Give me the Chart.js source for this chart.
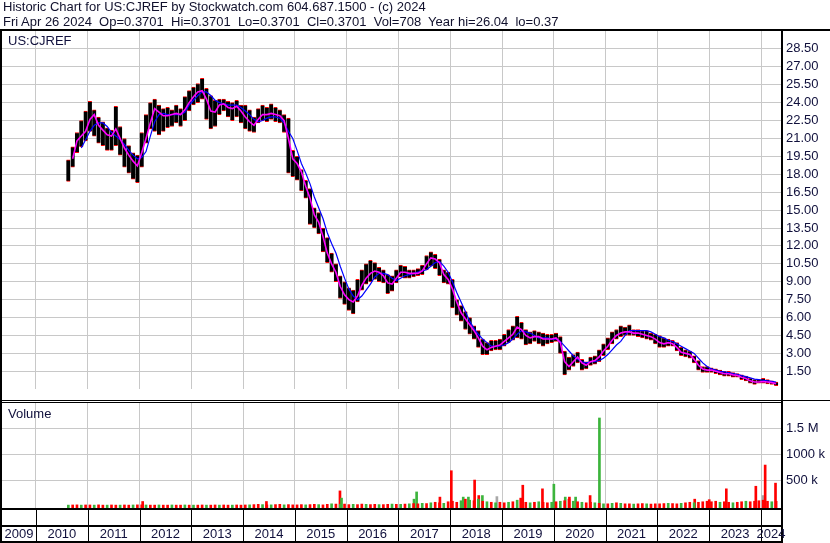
<!DOCTYPE html>
<html>
<head>
<meta charset="utf-8">
<script src="https://cdn.jsdelivr.net/npm/chart.js@4.4.1/dist/chart.umd.min.js"></script>
<style>
body { margin: 0; background: #fff; width: 830px; height: 543px; overflow: hidden; position: relative; font-family: "Liberation Sans", Arial, sans-serif; }
#hdr { position: absolute; left: 3px; top: -1px; font-size: 13px; line-height: 15px; color: #10102c; white-space: pre; }
#c1 { position: absolute; left: 0; top: 0; }
#c2 { position: absolute; left: 0; top: 402px; }
</style>
</head>
<body>
<canvas id="c1" width="830" height="402"></canvas>
<canvas id="c2" width="830" height="141"></canvas>
<div id="hdr">Historic Chart for US:CJREF by Stockwatch.com 604.687.1500 - (c) 2024
Fri Apr 26 2024  Op=0.3701  Hi=0.3701  Lo=0.3701  Cl=0.3701  Vol=708  Year hi=26.04  lo=0.37</div>
<script>
// serie mensili a partire da agosto 2010
const firstYear = 2010, firstMonth = 8;
const years = [2009, 2010, 2011, 2012, 2013, 2014, 2015, 2016, 2017, 2018, 2019, 2020, 2021, 2022, 2023, 2024];
const priceTicks = [1.5, 3, 4.5, 6, 7.5, 9, 10.5, 12, 13.5, 15, 16.5, 18, 19.5, 21, 22.5, 24, 25.5, 27, 28.5];
const volTicks = [500000, 1000000, 1500000];

const hi = [
  19.2, 20.3, 21.5, 22.5, 23.3,
  24.1, 23.4, 22.8, 22.4, 21.9, 21.7, 23.7, 22.0, 21.0, 20.4, 19.8, 19.6,
  21.5, 23.0, 24.0, 24.3, 23.8, 23.5, 23.6, 23.4, 23.8, 23.5, 24.5, 25.0,
  25.3, 25.6, 26.04, 25.2, 24.6, 24.2, 24.3, 24.3, 24.1, 24.0, 24.2, 23.8,
  23.8, 23.4, 22.8, 23.5, 23.8, 23.6, 23.9, 23.6, 23.4, 23.0, 22.7, 20.0,
  19.5, 18.4, 17.5, 16.8, 15.2, 14.8, 13.5, 12.7, 11.4, 10.5, 9.5, 9.0,
  8.5, 8.3, 9.2, 10.0, 10.5, 10.8, 10.6, 10.2, 10.0, 9.6, 9.5, 10.0,
  10.4, 10.3, 10.0, 10.0, 10.1, 10.4, 11.2, 11.5, 11.3, 10.9, 10.0, 9.8,
  9.2, 7.5, 7.0, 6.5, 6.0, 5.3, 4.9, 4.2, 3.9, 4.1, 4.1, 4.2,
  4.6, 5.0, 5.3, 6.1, 5.6, 5.0, 4.8, 4.9, 4.8, 4.7, 4.6, 4.6,
  4.7, 4.4, 3.2, 2.7, 2.9, 3.1, 2.5, 2.3, 2.7, 2.8, 3.3, 3.8,
  4.3, 4.8, 5.0, 5.3, 5.2, 5.4, 5.0, 5.0, 4.9, 4.9, 4.7, 4.6,
  4.5, 4.3, 4.2, 4.1, 3.9, 3.5, 3.3, 3.2, 2.8, 2.4, 1.9, 1.9,
  1.8, 1.7, 1.6, 1.5, 1.5, 1.4, 1.3, 1.2, 1.1, 0.9, 0.8, 0.8,
  0.9, 0.8, 0.7, 0.6
];
const lo = [
  17.4, 18.6, 19.8, 20.3, 20.8,
  21.6, 21.2, 20.6, 20.4, 20.0, 20.0, 20.4, 19.6, 18.6, 18.1, 17.6, 17.3,
  18.6, 20.6, 21.8, 21.6, 21.3, 21.6, 21.9, 22.0, 22.3, 22.0, 22.5, 23.3,
  23.8, 24.0, 24.3, 22.6, 21.8, 22.0, 23.0, 23.3, 22.8, 22.5, 22.8, 22.3,
  21.8, 21.6, 21.5, 22.3, 22.5, 22.4, 22.6, 22.4, 22.3, 21.5, 18.1, 17.8,
  17.5, 16.6, 16.0, 13.8, 13.5, 13.0, 11.5, 10.6, 9.8, 9.0, 7.6, 7.1,
  6.6, 6.3, 7.3, 8.3, 8.8, 9.0, 9.2, 9.0, 8.9, 8.0, 8.2, 8.9,
  9.4, 9.3, 9.3, 9.4, 9.5, 9.6, 10.0, 10.3, 10.1, 9.5, 8.9, 8.8,
  6.8, 6.2, 5.7, 5.0, 4.6, 4.2, 3.5, 2.9, 2.9, 3.2, 3.3, 3.3,
  3.6, 3.9, 4.1, 4.3, 4.2, 3.7, 3.8, 4.0, 3.8, 3.6, 3.8, 3.9,
  4.0, 3.0, 1.2, 1.6, 1.9, 2.2, 1.6, 1.7, 2.0, 2.1, 2.3, 2.8,
  3.3, 3.8, 4.2, 4.4, 4.5, 4.5, 4.5, 4.4, 4.3, 4.2, 4.1, 3.8,
  3.5, 3.5, 3.6, 3.6, 3.2, 2.8, 2.7, 2.6, 2.2, 1.6, 1.4, 1.4,
  1.4, 1.3, 1.2, 1.1, 1.1, 1.0, 1.0, 0.8, 0.7, 0.5, 0.4, 0.5,
  0.5, 0.45, 0.4, 0.3
];
// media mobile breve (magenta)
const maShort = [
  null, 19.3, 20.8, 21.2, 21.6,
  22.6, 23.0, 22.1, 21.7, 21.3, 21.2, 21.8, 21.0, 20.2, 19.6, 19.1, 18.7,
  19.8, 21.0, 22.3, 23.5, 23.2, 22.9, 22.9, 23.0, 23.1, 23.0, 23.4, 24.0,
  24.5, 24.9, 25.0, 24.3, 23.3, 23.2, 23.8, 23.9, 23.6, 23.5, 23.7, 23.3,
  22.8, 22.4, 22.1, 22.6, 23.0, 23.0, 23.1, 23.0, 22.9, 22.5, 21.0, 19.3,
  18.9, 18.2, 17.0, 16.0, 14.6, 14.0, 12.8, 11.4, 10.5, 9.8, 8.6, 7.9,
  7.5, 7.3, 7.8, 8.7, 9.3, 9.7, 9.9, 9.8, 9.5, 8.9, 8.8, 9.3,
  9.8, 9.8, 9.7, 9.7, 9.7, 9.9, 10.5, 11.0, 10.9, 10.6, 9.6, 9.2,
  8.4, 7.3, 6.4, 5.9, 5.4, 4.9, 4.3, 3.6, 3.3, 3.5, 3.6, 3.7,
  4.0, 4.3, 4.6, 5.2, 5.0, 4.5, 4.3, 4.4, 4.4, 4.2, 4.2, 4.2,
  4.3, 3.9, 2.3, 1.9, 2.3, 2.7, 2.2, 2.0, 2.3, 2.4, 2.7, 3.2,
  3.6, 4.1, 4.5, 4.7, 4.8, 4.8, 4.7, 4.7, 4.6, 4.5, 4.4, 4.2,
  3.9, 3.8, 3.9, 3.8, 3.5, 3.1, 3.0, 2.9, 2.5, 2.0, 1.7, 1.6,
  1.6, 1.5, 1.4, 1.3, 1.3, 1.2, 1.15, 1.0, 0.9, 0.7, 0.6, 0.6,
  0.65, 0.6, 0.55, 0.45
];
// media mobile lunga (blu)
const maLong = [
  null, null, null, 20.2, 20.9,
  21.6, 22.1, 22.3, 22.3, 22.0, 21.5, 21.2, 20.9, 20.5, 20.0, 19.6, 19.3,
  19.4, 19.9, 21.2, 22.4, 23.0, 23.1, 23.0, 23.0, 23.0, 23.0, 23.2, 23.8,
  24.2, 24.6, 24.9, 24.9, 24.6, 24.2, 24.0, 23.9, 23.8, 23.8, 23.8, 23.6,
  23.3, 23.0, 22.6, 22.4, 22.5, 22.7, 22.8, 22.8, 22.7, 22.3, 21.6, 21.0,
  20.0, 18.9, 18.1, 17.2, 16.1, 15.2, 14.3, 13.1, 12.2, 11.4, 10.3, 9.3,
  8.4, 7.8, 7.5, 7.8, 8.3, 8.8, 9.4, 9.7, 9.7, 9.6, 9.3, 9.1,
  9.3, 9.5, 9.6, 9.7, 9.8, 9.9, 10.0, 10.3, 10.6, 10.7, 10.3, 9.8,
  9.0, 8.1, 7.3, 6.5, 5.7, 5.1, 4.6, 4.2, 3.9, 3.6, 3.6, 3.6,
  3.7, 3.9, 4.2, 4.6, 4.9, 4.8, 4.7, 4.5, 4.3, 4.3, 4.3, 4.2,
  4.2, 4.0, 3.6, 3.2, 2.8, 2.5, 2.3, 2.2, 2.3, 2.3, 2.4, 2.6,
  2.9, 3.3, 3.7, 4.0, 4.5, 4.9, 4.9, 4.9, 4.9, 4.9, 4.8, 4.6,
  4.4, 4.3, 4.1, 4.0, 3.8, 3.6, 3.4, 3.2, 3.0, 2.6, 2.2, 1.9,
  1.7, 1.6, 1.5, 1.45, 1.4, 1.3, 1.25, 1.15, 1.05, 0.95, 0.85, 0.8,
  0.75, 0.7, 0.65, 0.6
];
// volume mensile (migliaia) e direzione r=ribasso g=rialzo
const volK = [
  15, 18, 20, 15, 18,
  18, 15, 20, 15, 15, 18, 15, 15, 18, 15, 18, 20,
  20, 18, 15, 15, 18, 15, 15, 18, 15, 15, 18, 15,
  15, 15, 18, 15, 15, 18, 15, 18, 15, 15, 18, 15,
  18, 20, 25, 30, 25, 20, 20, 25, 30, 20, 25, 20,
  20, 25, 20, 25, 30, 25, 20, 30, 40, 35, 30, 35,
  25, 30, 25, 35, 30, 25, 30, 25, 25, 30, 35, 30,
  30, 35, 40, 45, 40, 50, 45, 60, 70, 60, 50, 80,
  90, 70, 100, 130, 110, 100, 130, 90, 80, 70, 60, 70,
  60, 70, 80, 110, 90, 70, 60, 70, 80, 70, 60, 70,
  80, 90, 100, 130, 90, 80, 70, 60, 70, 60, 50, 40,
  40, 50, 60, 50, 40, 40, 35, 40, 45, 40, 35, 40,
  40, 45, 50, 45, 40, 50, 60, 70, 60, 70, 80, 90,
  80, 90, 70, 80, 70, 60, 70, 80, 90, 80, 90, 100,
  110, 90, 80, 90
];
const volDir = 'grrgr' +
  'rgrrgrrgrrgr' + 'rgrrgrrgrrgr' + 'grrgrrgrrgrr' + 'rgrrgrgrrgrr' +
  'rrgrrgrrgrgr' + 'rgrrgrrgrrgr' + 'grgrrgrgrrgr' + 'rrgrgrgrgrgr' +
  'rgrgrrgrgrrg' + 'rgrrgrgrrgrg' + 'rgrgrrgrrgrr' + 'rrgrrgrrgrrr' +
  'rrgrrgrrgrrr' + 'rrgr';
// picchi di volume: data, migliaia, direzione
const spikeDate = [2012.06, 2014.45, 2015.87, 2015.90, 2017.30, 2017.35, 2017.80, 2018.02, 2018.25, 2018.35, 2018.47, 2018.55, 2018.62, 2018.90, 2019.36, 2019.40, 2019.78, 2020.00, 2020.22, 2020.30, 2020.42, 2020.70, 2020.88, 2022.72, 2023.00, 2023.33, 2023.90, 2024.04, 2024.08, 2024.28];
const spikeK    = [85, 85, 290, 150, 130, 270, 170, 680, 170, 170, 500, 200, 200, 180, 150, 400, 330, 420, 170, 170, 170, 200, 1700, 130, 120, 330, 380, 200, 790, 440];
const spikeDir  = 'ddduuudduuddunddduudududdddndd';

const monthX = i => firstYear + (firstMonth - 1 + i + 0.5) / 12;
const xMin = 2009.344, xMax = 2024.386;
const dirColor = { r: '#ff0000', d: '#ff0000', g: '#3cb43c', u: '#3cb43c', n: '#a8a8a8' };
const ink = '#10103c';
const axisFont = { family: '"Liberation Sans", Arial, sans-serif', size: 13 };

const xScale = {
  type: 'linear', min: xMin, max: xMax, offset: false,
  grid: { color: '#c8c8c8', drawTicks: false, offset: false },
  border: { display: false },
  ticks: { display: false },
  afterBuildTicks: s => { s.ticks = years.slice(1).map(v => ({ value: v })); },
  afterFit: s => { s.height = 0; }
};

const framePrice = {
  id: 'framePrice',
  afterDraw(chart) {
    const ctx = chart.ctx;
    ctx.save();
    ctx.fillStyle = '#000';
    ctx.fillRect(0, 29, 830, 2);
    ctx.fillRect(0, 29, 2, 373);
    ctx.fillRect(781, 29, 2, 373);
    ctx.fillRect(0, 400, 830, 1);
    ctx.fillStyle = ink;
    ctx.font = '13px "Liberation Sans", Arial, sans-serif';
    ctx.textBaseline = 'alphabetic';
    ctx.fillText('US:CJREF', 8, 45);
    ctx.restore();
  }
};

new Chart(document.getElementById('c1'), {
  type: 'bar',
  data: {
    datasets: [{
      type: 'line', data: maShort.map((v, i) => ({ x: monthX(i), y: v })),
      borderColor: '#ff00ff', borderWidth: 1.6, pointRadius: 0, tension: 0
    }, {
      type: 'line', data: maLong.map((v, i) => ({ x: monthX(i), y: v })),
      borderColor: '#0000ff', borderWidth: 1.2, pointRadius: 0, tension: 0
    }, {
      type: 'bar', data: hi.map((v, i) => ({ x: monthX(i), y: [lo[i], v] })),
      backgroundColor: '#000', borderColor: '#ff0000',
      borderWidth: { top: 1, bottom: 1, left: 0, right: 0 }, borderSkipped: false,
      barThickness: 4
    }]
  },
  options: {
    responsive: false, animation: false,
    layout: { padding: { top: 31, left: 2, right: 0, bottom: 2 } },
    plugins: { legend: { display: false }, tooltip: { enabled: false } },
    scales: {
      x: xScale,
      y: {
        position: 'right', min: 0, max: 30,
        grid: { color: '#c8c8c8', drawTicks: false, tickLength: 0 },
        border: { display: false },
        afterBuildTicks: s => { s.ticks = priceTicks.map(v => ({ value: v })); },
        afterFit: s => { s.width = 49; },
        ticks: { color: ink, font: axisFont, padding: 5, callback: v => v.toFixed(2) }
      }
    }
  },
  plugins: [framePrice]
});

const frameVol = {
  id: 'frameVol',
  afterDraw(chart) {
    const ctx = chart.ctx, x = chart.scales.x;
    ctx.save();
    ctx.fillStyle = '#000';
    ctx.fillRect(0, 0, 783, 1);
    ctx.fillRect(0, 0, 2, 141);
    ctx.fillRect(781, 0, 2, 141);
    ctx.fillRect(0, 106, 783, 2);
    ctx.fillRect(0, 123, 783, 2);
    ctx.fillRect(0, 139, 783, 2);
    years.slice(1).forEach(y => {
      ctx.fillRect(Math.round(x.getPixelForValue(y)), 107, 1, 34);
    });
    ctx.font = '13px "Liberation Sans", Arial, sans-serif';
    ctx.textBaseline = 'alphabetic';
    ctx.fillStyle = ink;
    ctx.fillText('Volume', 8, 16);
    ctx.textAlign = 'center';
    years.forEach(y => {
      const a = Math.max(x.getPixelForValue(y), 2);
      const b = Math.min(x.getPixelForValue(y + 1), 781);
      ctx.fillText(String(y), (a + b) / 2, 136);
    });
    ctx.restore();
  }
};

new Chart(document.getElementById('c2'), {
  type: 'bar',
  data: {
    datasets: [{
      data: volK.map((v, i) => ({ x: monthX(i), y: v * 1000 })),
      backgroundColor: volK.map((v, i) => dirColor[volDir[i]]),
      barThickness: 2, base: -60000
    }, {
      data: spikeK.map((v, i) => ({ x: spikeDate[i], y: v * 1000 })),
      backgroundColor: spikeK.map((v, i) => dirColor[spikeDir[i]]),
      barThickness: 2, base: -60000
    }]
  },
  options: {
    responsive: false, animation: false,
    layout: { padding: { top: 1, left: 2, right: 0, bottom: 34 } },
    plugins: { legend: { display: false }, tooltip: { enabled: false } },
    datasets: { bar: { grouped: false } },
    scales: {
      x: xScale,
      y: {
        position: 'right', min: -60000, max: 1990000,
        grid: { color: '#c8c8c8', drawTicks: false, tickLength: 0 },
        border: { display: false },
        afterBuildTicks: s => { s.ticks = volTicks.map(v => ({ value: v })); },
        afterFit: s => { s.width = 49; s.paddingTop = 0; s.paddingBottom = 0; },
        ticks: { color: ink, font: axisFont, padding: 5,
          callback: v => v >= 1500000 ? (v / 1e6) + ' M' : (v / 1000) + ' k' }
      }
    }
  },
  plugins: [frameVol]
});
</script>
</body>
</html>
